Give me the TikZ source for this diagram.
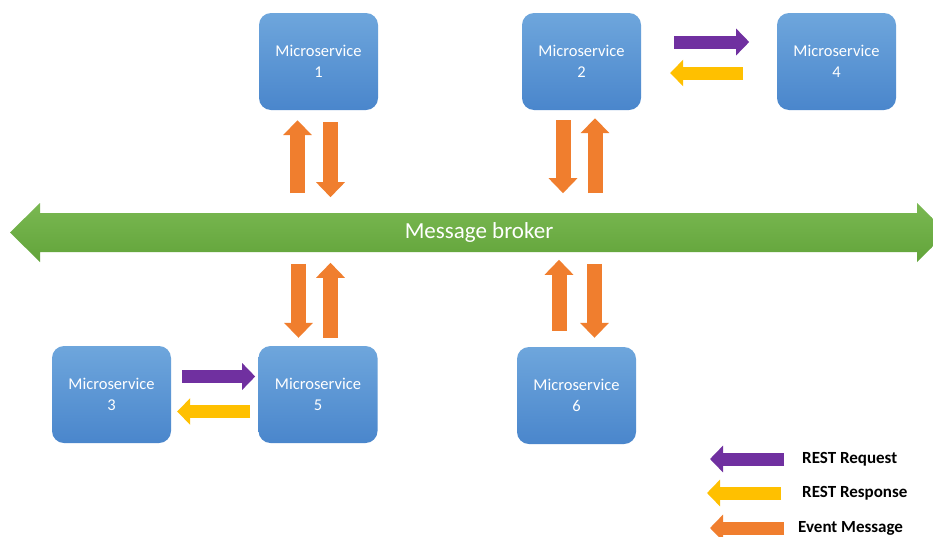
\documentclass[tikz,border=0pt]{standalone}
\usepackage{fontspec}
\setmainfont{Carlito}
\usetikzlibrary{arrows.meta}
\definecolor{msTop}{HTML}{6EA6DC}
\definecolor{msBot}{HTML}{4A86CC}
\definecolor{busTop}{HTML}{7AB852}
\definecolor{busBot}{HTML}{62A43A}
\definecolor{evOrange}{HTML}{F07E2E}
\definecolor{reqPurple}{HTML}{7030A0}
\definecolor{resYellow}{HTML}{FFC000}
\begin{document}
\begin{tikzpicture}[x=1pt,y=-1pt,
  service/.style={rounded corners=12pt, minimum width=119pt, minimum height=97pt,
    top color=msTop, bottom color=msBot, text=white, align=center,
    font=\fontsize{16.5}{20.5}\selectfont, inner sep=0pt},
  vblock/.style={line width=15pt, -{Triangle[width=28pt,length=15pt]}},
  hblock/.style={line width=13pt, -{Triangle[width=26pt,length=13pt]}},
  event/.style={vblock, draw=evOrange},
  request/.style={hblock, draw=reqPurple},
  response/.style={hblock, draw=resYellow},
  legendtext/.style={anchor=west, inner sep=0pt, font=\fontsize{17}{20}\selectfont\bfseries, text=black},
]
\clip (0,0) rectangle (933,536);
\fill[white] (0,0) rectangle (933,536);

% message broker bus
\shade[top color=busTop, bottom color=busBot]
  (10,232.5) -- (40,203) -- (40,213) -- (917,213) -- (917,203) -- (947,232.5)
  -- (917,262) -- (917,252) -- (40,252) -- (40,262) -- cycle;
\node[font=\fontsize{23}{27}\selectfont, text=white, inner sep=0pt] (bus) at (479,232) {Message broker};

% services
\node[service] (ms1) at (318.5,61.5) {Microservice\\1};
\node[service] (ms2) at (581.5,61.5) {Microservice\\2};
\node[service] (ms4) at (836.5,61.5) {Microservice\\4};
\node[service] (ms3) at (111.5,394.5) {Microservice\\3};
\node[service] (ms5) at (318,394.5) {Microservice\\5};
\node[service] (ms6) at (576.5,395.5) {Microservice\\6};

% event messages between services and the broker
\draw[event] ([xshift=-21pt,yshift=-83pt]ms1.south) -- ([xshift=-21pt,yshift=-10pt]ms1.south);
\draw[event] ([xshift=12pt,yshift=-12pt]ms1.south) -- ([xshift=12pt,yshift=-87pt]ms1.south);
\draw[event] ([xshift=-18.5pt,yshift=-10pt]ms2.south) -- ([xshift=-18.5pt,yshift=-83pt]ms2.south);
\draw[event] ([xshift=13.5pt,yshift=-83pt]ms2.south) -- ([xshift=13.5pt,yshift=-8pt]ms2.south);
\draw[event] ([xshift=-19.5pt,yshift=82pt]ms5.north) -- ([xshift=-19.5pt,yshift=8pt]ms5.north);
\draw[event] ([xshift=12.5pt,yshift=8pt]ms5.north) -- ([xshift=12.5pt,yshift=83pt]ms5.north);
\draw[event] ([xshift=-17.5pt,yshift=16pt]ms6.north) -- ([xshift=-17.5pt,yshift=87pt]ms6.north);
\draw[event] ([xshift=18pt,yshift=83pt]ms6.north) -- ([xshift=18pt,yshift=9pt]ms6.north);

% REST calls
\draw[request] ([xshift=33pt,yshift=19.5pt]ms2.east) -- ([xshift=108pt,yshift=19.5pt]ms2.east);
\draw[response] ([xshift=102pt,yshift=-11.5pt]ms2.east) -- ([xshift=29pt,yshift=-11.5pt]ms2.east);
\draw[request] ([xshift=11pt,yshift=18pt]ms3.east) -- ([xshift=84pt,yshift=18pt]ms3.east);
\draw[response] ([xshift=79pt,yshift=-17pt]ms3.east) -- ([xshift=6pt,yshift=-17pt]ms3.east);

% legend
\node[legendtext] (lreq) at (802,459) {REST Request};
\node[legendtext] (lres) at (802,493) {REST Response};
\node[legendtext] (lev) at (798,528) {Event Message};
\draw[request] ([xshift=-18pt]lreq.west) -- ([xshift=-92pt]lreq.west);
\draw[response] ([xshift=-21pt]lres.west) -- ([xshift=-95pt]lres.west);
\draw[hblock, draw=evOrange] ([xshift=-14pt]lev.west) -- ([xshift=-88pt]lev.west);
\end{tikzpicture}
\end{document}
